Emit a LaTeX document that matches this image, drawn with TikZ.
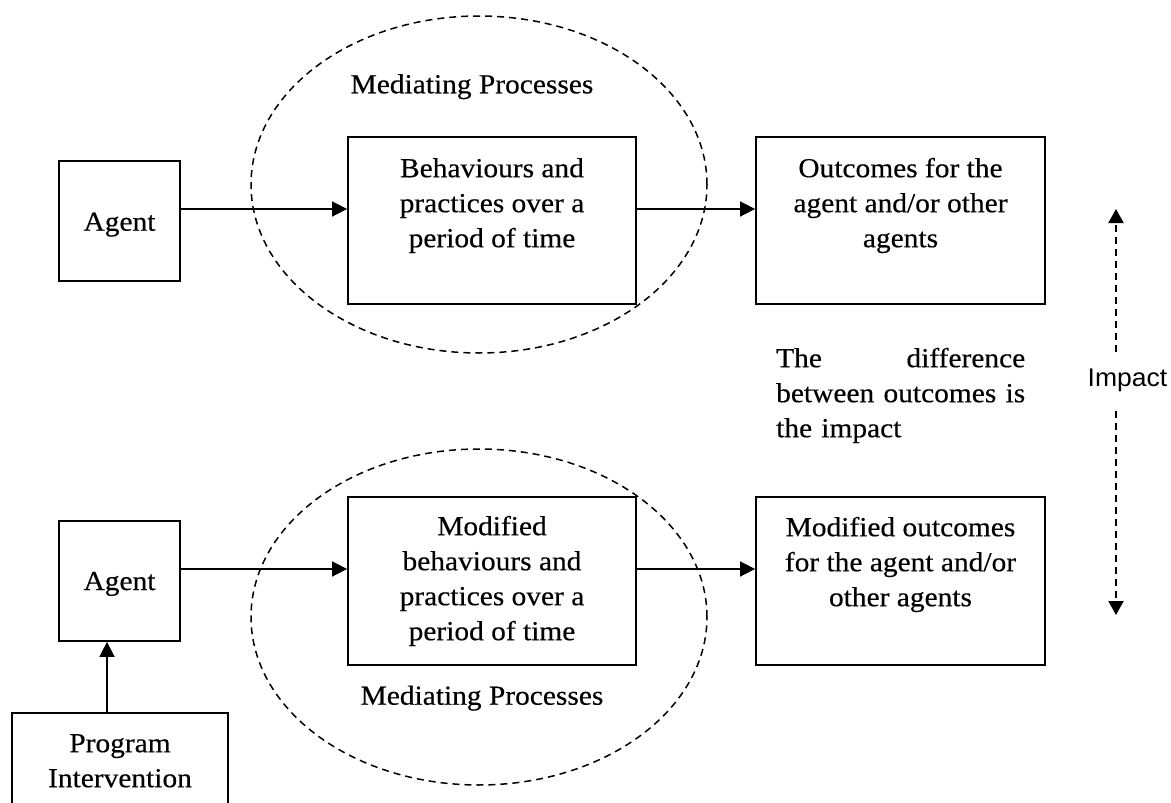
\documentclass[tikz,border=0pt]{standalone}
\usepackage{fontspec}
\setmainfont{Liberation Serif}[FakeStretch=1.07,FakeBold=0.4]
\newfontfamily\impactfont{Liberation Sans}[FakeStretch=1.04]
\usetikzlibrary{arrows.meta,shapes.geometric}
\begin{document}
\begin{tikzpicture}[x=1pt,y=-1pt,
  box/.style={draw,line width=1.8pt,inner sep=0pt,rectangle},
  txt/.style={font=\fontsize{27.5}{35}\selectfont,inner sep=0pt,align=center},
  arr/.style={-{Triangle[length=15pt,width=15pt]},line width=1.7pt},
  darr/.style={-{Triangle[length=14pt,width=15pt]},line width=2pt,dash pattern=on 7pt off 5pt},
  medi/.style={draw,ellipse,dash pattern=on 7pt off 5pt,line width=1.5pt,inner sep=0pt}]
\useasboundingbox (0,0) rectangle (1171,803);
\fill[white] (0,0) rectangle (1171,803);
% mediating ellipses
\node[medi,minimum width=456pt,minimum height=337pt] (med1) at (479,184.5) {};
\node[medi,minimum width=456pt,minimum height=336pt] (med2) at (479,617) {};
\node[txt,anchor=base] (med1t) at (472,93.3) {Mediating Processes};
\node[txt,anchor=base] (med2t) at (482,704.7) {Mediating Processes};
% top row
\node[box,minimum width=121pt,minimum height=120pt] (agent1) at (119.5,221) {};
\node[txt,anchor=base] (agent1t) at (119.5,230.7) {Agent};
\node[box,minimum width=288pt,minimum height=167pt] (beh1) at (492,220.5) {};
\node[txt,anchor=north] (beh1t) at (492,152.5) {\strut Behaviours and\\practices over a\\period of time};
\node[box,minimum width=289pt,minimum height=167pt] (out1) at (900.5,220.5) {};
\node[txt,anchor=north] (out1t) at (900.5,152.5) {\strut Outcomes for the\\agent and/or other\\agents};
% bottom row
\node[box,minimum width=121pt,minimum height=120pt] (agent2) at (119.5,581) {};
\node[txt,anchor=base] (agent2t) at (119.5,590) {Agent};
\node[box,minimum width=288pt,minimum height=168pt] (beh2) at (492,581) {};
\node[txt,anchor=north] (beh2t) at (492,510.5) {\strut Modified\\behaviours and\\practices over a\\period of time};
\node[box,minimum width=289pt,minimum height=168pt] (out2) at (900.5,581) {};
\node[txt,anchor=north] (out2t) at (900.5,511.5) {\strut Modified outcomes\\for the agent and/or\\other agents};
\node[box,minimum width=216pt,minimum height=93pt] (prog) at (120,759.5) {};
\node[txt,anchor=north] (progt) at (120,727.5) {\strut Program\\Intervention};
% difference text
\node[txt,anchor=north west,text width=249pt,align=left] (diff) at (776,342.5)
  {\strut The\hfill difference\\between\hfill outcomes\hfill is\\the impact};
% impact
\node[inner sep=0pt,minimum height=56pt,font=\impactfont\fontsize{25.5}{30}\selectfont] (impact) at (1127.5,380) {Impact};
\coordinate (itop) at (1116,209);
\coordinate (ibot) at (1116,615);
\draw[darr] (impact.north -| itop) -- (itop);
\draw[darr] ([yshift=-3pt]impact.south -| itop) -- (ibot);
% connectors
\draw[arr] ([yshift=12pt]agent1.east) -- ([yshift=12pt]agent1.east -| beh1.west);
\draw[arr] ([yshift=11.5pt]beh1.east) -- ([yshift=11.5pt]out1.west);
\draw[arr] ([yshift=12pt]agent2.east) -- ([yshift=12pt]agent2.east -| beh2.west);
\draw[arr] ([yshift=12pt]beh2.east) -- ([yshift=12pt]out2.west);
\draw[arr] ([xshift=-13pt]prog.north) -- ([xshift=-13pt]prog.north |- agent2.south);
\end{tikzpicture}
\end{document}
